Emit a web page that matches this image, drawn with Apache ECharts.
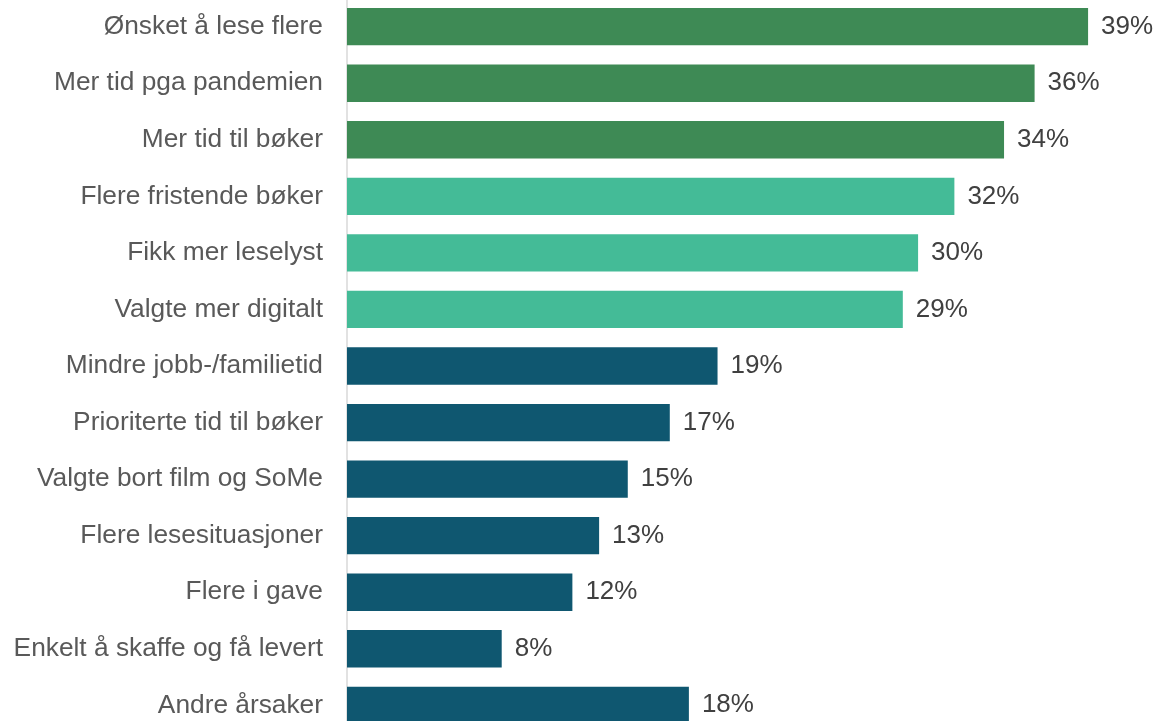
<!DOCTYPE html>
<html>
<head>
<meta charset="utf-8">
<script src="https://cdn.jsdelivr.net/npm/echarts@6/dist/echarts.min.js"></script>
<style>
html,body{margin:0;padding:0;background:#fff;}
#chart{width:1155px;height:721px;}
</style>
</head>
<body>
<div id="chart"></div>
<script>
const categories = [
  'Ønsket å lese flere',
  'Mer tid pga pandemien',
  'Mer tid til bøker',
  'Flere fristende bøker',
  'Fikk mer leselyst',
  'Valgte mer digitalt',
  'Mindre jobb-/familietid',
  'Prioriterte tid til bøker',
  'Valgte bort film og SoMe',
  'Flere lesesituasjoner',
  'Flere i gave',
  'Enkelt å skaffe og få levert',
  'Andre årsaker'
];
const values = [38.8, 36.0, 34.4, 31.8, 29.9, 29.1, 19.4, 16.9, 14.7, 13.2, 11.8, 8.1, 17.9];
const groups = ['a','a','a','b','b','b','c','c','c','c','c','c','c'];

const groupColors = { a: '#3e8a55', b: '#44bb97', c: '#0f5770' };

const chart = echarts.init(document.getElementById('chart'), null, { renderer: 'canvas' });
chart.setOption({
  animation: false,
  backgroundColor: '#ffffff',
  grid: { left: 347, right: 44, top: -1.6, bottom: -12.6, containLabel: false, outerBoundsMode: 'none' },
  xAxis: {
    type: 'value', min: 0, max: 40,
    show: false
  },
  yAxis: {
    type: 'category',
    data: categories,
    inverse: true,
    axisLine: { show: true, lineStyle: { color: '#d9d9d9', width: 1.5 } },
    axisTick: { show: false },
    axisLabel: {
      margin: 24,
      color: '#595959',
      fontSize: 26.3,
      fontFamily: 'Liberation Sans, Arial, sans-serif'
    }
  },
  series: [{
    type: 'bar',
    barCategoryGap: '34%',
    data: values.map((v, i) => ({ value: v, itemStyle: { color: groupColors[groups[i]] } })),
    label: {
      show: true,
      position: 'right',
      distance: 13,
      color: '#404040',
      fontSize: 26,
      fontFamily: 'Liberation Sans, Arial, sans-serif',
      formatter: p => Math.round(p.value) + '%'
    }
  }]
});
</script>
</body>
</html>
